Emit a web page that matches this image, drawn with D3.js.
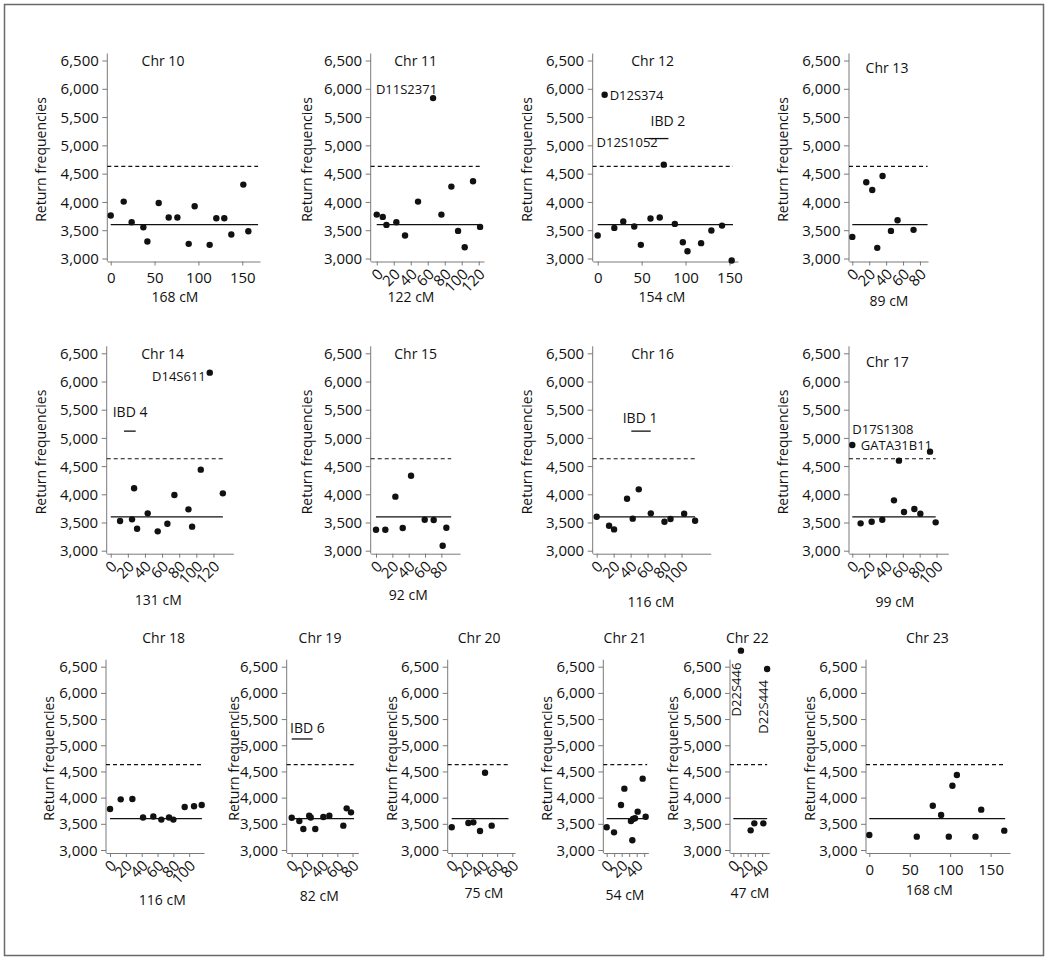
<!DOCTYPE html>
<html><head><meta charset="utf-8">
<script src="https://cdn.jsdelivr.net/npm/d3@7"></script>
<style>
body{margin:0;background:#fff}
svg text{font-family:"Open Sans",sans-serif;fill:#111;font-size:14px}
</style>
</head><body>
<svg id="c" width="1050" height="963"></svg>
<script>
// ---------- data ----------
const chromosomes = [10,11,12,13,14,15,16,17,18,19,20,21,22,23];
const chrLengths  = [168,122,154,89,131,92,116,99,116,82,75,54,47,168];

const chr10_pos = [0,14.8,23.9,37.2,41.8,54.7,66.1,76.0,88.9,95.7,112.8,120.4,129.5,137.5,151.2,156.9];
const chr10_rf  = [3759,4006,3641,3553,3300,3982,3724,3724,3259,3924,3241,3712,3712,3424,4306,3482];
const chr11_pos = [0,7.1,11.4,23.1,33.3,48.6,66.3,76.1,87.8,95.7,103.5,113.3,121.6];
const chr11_rf  = [3776,3735,3594,3641,3406,4006,5835,3776,4271,3488,3200,4365,3559];
const chr12_pos = [0,7.9,18.9,29.1,41.6,49.1,60.1,70.6,75.2,87.8,96.9,102.2,117.7,129.4,141.5,152.5];
const chr12_rf  = [3406,5894,3541,3653,3565,3241,3706,3724,4659,3612,3288,3129,3271,3494,3582,2965];
const chr13_pos = [0,16.5,23.6,29.5,35.8,45.7,53.5,72.4];
const chr13_rf  = [3382,4347,4212,3188,4459,3488,3676,3506];
const chr14_pos = [10.9,24.9,27.3,30.8,43.2,54.9,66.2,74.4,90.8,95.1,105.2,115.7,131];
const chr14_rf  = [3526,3556,4106,3390,3662,3343,3479,3987,3733,3426,4437,6157,4017];
const chr15_pos = [0,11.4,23.7,32.7,42.9,59.6,70.6,81.6,86.1];
const chr15_rf  = [3372,3372,3958,3402,4330,3550,3544,3089,3408];
const chr16_pos = [0,14.6,20.5,35.8,42.5,49.6,63.8,79.9,87,103.1,116];
const chr16_rf  = [3603,3443,3378,3922,3568,4088,3662,3514,3561,3656,3532];
const chr17_pos = [0,9.9,23,35.6,49.5,55.4,61.4,73.7,80.8,92.3,99];
const chr17_rf  = [4874,3485,3514,3550,3893,4597,3686,3739,3656,4756,3503];
const chr18_pos = [0,13.5,28.2,41.7,54.7,64.8,74.5,80,94.3,106.1,115.8];
const chr18_rf  = [3783,3967,3974,3620,3640,3580,3620,3580,3821,3834,3859];
const chr19_pos = [0,10,15.3,23,25,31,41.6,49.5,67.9,72.3,78];
const chr19_rf  = [3617,3554,3401,3655,3620,3401,3630,3655,3465,3795,3719];
const chr20_pos = [0,22,28.6,37.4,44,52.8];
const chr20_rf  = [3433,3515,3528,3363,4476,3465];
const chr21_pos = [0,9.8,19.1,23.6,32.4,34.2,35.1,37.8,41.3,48,52];
const chr21_rf  = [3433,3337,3859,4171,3554,3185,3592,3605,3732,4362,3636];
const chr22_pos = [10.6,24.1,29.2,41.7,47];
const chr22_rf  = [6806,3375,3509,3509,6456];
const chr23_pos = [0,58.7,78.5,88.8,98.3,102.8,108.3,131.3,138.4,166.9];
const chr23_rf  = [3286,3255,3846,3668,3255,4228,4432,3255,3770,3369];

const meanLevel = 3600;       // solid line
const thresholdLevel = 4630;  // dashed line
const yTicks = [3000,3500,4000,4500,5000,5500,6000,6500];

const markerChr  = [11,12,12,14,17,17,22,22];
const markerName = ["D11S2371","D12S374","D12S1052","D14S611","D17S1308","GATA31B11","D22S446","D22S444"];
const markerCM   = [66.3,7.9,75.2,115.7,0,92.3,10.6,47];

const ibdName  = ["IBD 2","IBD 4","IBD 1","IBD 6"];
const ibdChr   = [12,14,16,19];
const ibdStart = [58.2,15.5,40.8,0];
const ibdEnd   = [80.5,29.2,63.7,27.6];
const ibdLevel = 5120;

const seriesPos = {10:chr10_pos,11:chr11_pos,12:chr12_pos,13:chr13_pos,14:chr14_pos,15:chr15_pos,16:chr16_pos,17:chr17_pos,18:chr18_pos,19:chr19_pos,20:chr20_pos,21:chr21_pos,22:chr22_pos,23:chr23_pos};
const seriesRf  = {10:chr10_rf,11:chr11_rf,12:chr12_rf,13:chr13_rf,14:chr14_rf,15:chr15_rf,16:chr16_rf,17:chr17_rf,18:chr18_rf,19:chr19_rf,20:chr20_rf,21:chr21_rf,22:chr22_rf,23:chr23_rf};

// ---------- layout ----------
const rows = [{top:60.5,bottom:258.5},{top:353.3,bottom:550.7},{top:666.7,bottom:850}];
const panels = [
 {chr:10,row:0,range:[107.3,260],dom:[-3.9,170.2],ticks:[0,50,100,150],rot:false,title:[163,60.7],xlab:[175,296.7],ylab:66},
 {chr:11,row:0,range:[370.7,484],dom:[-7.1,126.2],ticks:[0,20,40,60,80,100,120],rot:true,title:[415.7,60.7],xlab:[411,296.7],ylab:64},
 {chr:12,row:0,range:[592.7,738],dom:[-5.7,159.7],ticks:[0,50,100,150],rot:false,title:[652.7,60.7],xlab:[662,296.7],ylab:66},
 {chr:13,row:0,range:[849,928],dom:[-3.9,89.5],ticks:[0,20,40,60,80],rot:true,title:[887,67.7],xlab:[889,300.7],ylab:66},
 {chr:14,row:1,range:[106.7,233.3],dom:[-4.7,143.2],ticks:[0,20,40,60,80,100,120],rot:true,title:[162.7,354],xlab:[158.3,600],ylab:66},
 {chr:15,row:1,range:[370.7,460],dom:[-6.5,102.8],ticks:[0,20,40,60,80],rot:true,title:[415.7,354],xlab:[408.3,595],ylab:64},
 {chr:16,row:1,range:[592.7,710.7],dom:[-4.7,134.4],ticks:[0,20,40,60,80,100],rot:true,title:[652.7,354],xlab:[651,601.7],ylab:66},
 {chr:17,row:1,range:[849,948.3],dom:[-3.9,114],ticks:[0,20,40,60,80,100],rot:true,title:[887.3,362.3],xlab:[895,601.7],ylab:66},
 {chr:18,row:2,range:[106,204],dom:[-5.1,118.7],ticks:[0,20,40,60,80,100],rot:true,title:[163.7,638.3],xlab:[162.3,900],ylab:57},
 {chr:19,row:2,range:[286.7,358.3],dom:[-6.6,87.6],ticks:[0,20,40,60,80],rot:true,title:[320,638.3],xlab:[319.3,896],ylab:53},
 {chr:20,row:2,range:[447.7,515],dom:[-5.3,83.6],ticks:[0,20,40,60,80],rot:true,title:[479.2,638.3],xlab:[484,893.3],ylab:56},
 {chr:21,row:2,range:[603.3,648.3],dom:[-4.5,55.5],ticks:[0,10,20,30,40,50],every:20,rot:true,title:[625,638.3],xlab:[625,895],ylab:56.7},
 {chr:22,row:2,range:[730,769.3],dom:[-4.6,50],ticks:[0,10,20,30,40],every:20,rot:true,title:[747.3,638.3],xlab:[750,893.3],ylab:57.3},
 {chr:23,row:2,range:[866,1010],dom:[-4.1,174],ticks:[0,50,100,150],rot:false,title:[927.3,638.3],xlab:[929.3,890],ylab:56}
];
// marker label placement (pixel offsets from the point)
const markerLayout = [
 {anchor:"end",dx:4,dy:-4.5},
 {anchor:"start",dx:5,dy:5},
 {anchor:"end",dx:-6,dy:-17.5},
 {anchor:"end",dx:-4,dy:8.5},
 {anchor:"start",dx:0,dy:-11.5},
 {anchor:"end",dx:2,dy:-1.5},
 {anchor:"end",dx:0.5,dy:12,rot:true},
 {anchor:"end",dx:1,dy:11,rot:true}
];
const ibdLayout = [{dx:1.7,dy:-12.7},{dx:-11.3,dy:-14},{dx:-8.6,dy:-8.5},{dx:-1.7,dy:-6}];

const AX = "#7a7a7a", INK = "#111";
const TICKFONT = "15px";
const svg = d3.select("#c");
svg.append("rect").attr("x",4.5).attr("y",4.5).attr("width",1039).attr("height",951)
   .attr("fill","none").attr("stroke","#6a6a6a").attr("stroke-width",1.5);

const scales = {};
panels.forEach(p => {
  const r = rows[p.row];
  const x = d3.scaleLinear().domain(p.dom).range(p.range);
  const y = d3.scaleLinear().domain([3000,6500]).range([r.bottom,r.top]);
  scales[p.chr] = {x,y};
  const axisY = r.bottom + 3;
  const g = svg.append("g");
  const len = chrLengths[chromosomes.indexOf(p.chr)];

  // y axis
  g.append("line").attr("x1",p.range[0]).attr("x2",p.range[0])
   .attr("y1",r.top-7).attr("y2",axisY).attr("stroke",AX).attr("stroke-width",1);
  const ya = g.append("g").attr("transform",`translate(${p.range[0]},0)`)
   .call(d3.axisLeft(y).tickValues(yTicks).tickFormat(d3.format(",")).tickSize(5).tickSizeOuter(0));
  ya.select(".domain").remove();
  ya.selectAll(".tick line").attr("stroke",AX);
  ya.selectAll(".tick text").attr("x",-8.5).attr("dy","0.34em").style("font-family",'"Open Sans",sans-serif').style("font-size",TICKFONT).attr("fill",INK);

  // x axis
  const xa = g.append("g").attr("transform",`translate(0,${axisY})`)
   .call(d3.axisBottom(x).tickValues(p.ticks).tickSize(4).tickSizeOuter(0)
     .tickFormat(d => (p.every && d % p.every !== 0) ? "" : d));
  xa.select(".domain").attr("stroke",AX);
  xa.selectAll(".tick line").attr("stroke",AX);
  const tt = xa.selectAll(".tick text").style("font-family",'"Open Sans",sans-serif').style("font-size",TICKFONT).attr("fill",INK);
  if (p.rot) {
    tt.attr("x",0).attr("y",0).attr("dy","0.35em").attr("text-anchor","end")
      .attr("transform","translate(3,10) rotate(-45)");
  } else {
    tt.attr("y",16.5).attr("dy","0.35em");
  }

  // reference lines
  g.append("line").attr("x1",p.range[0]).attr("x2",x(len)).attr("y1",y(thresholdLevel)).attr("y2",y(thresholdLevel))
   .attr("stroke",INK).attr("stroke-width",1.2).attr("stroke-dasharray","4,3");
  g.append("line").attr("x1",x(0)).attr("x2",x(len)).attr("y1",y(meanLevel)).attr("y2",y(meanLevel))
   .attr("stroke",INK).attr("stroke-width",1.3);

  // points
  const pos = seriesPos[p.chr], rf = seriesRf[p.chr];
  g.selectAll("circle").data(pos.map((d,i)=>[d,rf[i]])).join("circle")
   .attr("cx",d=>x(d[0])).attr("cy",d=>y(d[1])).attr("r",3.2).attr("fill","#111");

  // texts
  g.append("text").attr("x",p.title[0]).attr("y",p.title[1]).attr("dy","0.36em").attr("text-anchor","middle").text("Chr " + p.chr);
  g.append("text").attr("x",p.xlab[0]).attr("y",p.xlab[1]).attr("dy","0.36em").attr("text-anchor","middle").text(len + " cM");
  g.append("text").attr("transform",`translate(${p.range[0]-p.ylab},${(r.top+r.bottom)/2}) rotate(-90)`)
   .attr("dy","0.36em").attr("text-anchor","middle").text("Return frequencies");
});

// marker labels
markerName.forEach((name,i) => {
  const c = markerChr[i], s = scales[c];
  const idx = seriesPos[c].indexOf(markerCM[i]);
  const px = s.x(markerCM[i]), py = s.y(seriesRf[c][idx]);
  const L = markerLayout[i];
  const t = svg.append("text").attr("text-anchor",L.anchor).style("font-size","13px").text(name);
  if (L.rot) t.attr("transform",`translate(${px+L.dx},${py+L.dy}) rotate(-90)`);
  else t.attr("x",px+L.dx).attr("y",py+L.dy);
});

// IBD regions
ibdName.forEach((name,i) => {
  const s = scales[ibdChr[i]];
  const x1 = s.x(ibdStart[i]), x2 = s.x(ibdEnd[i]), yy = s.y(ibdLevel);
  svg.append("line").attr("x1",x1).attr("x2",x2).attr("y1",yy).attr("y2",yy).attr("stroke",INK).attr("stroke-width",1.3);
  svg.append("text").attr("x",x1+ibdLayout[i].dx).attr("y",yy+ibdLayout[i].dy).text(name);
});
</script>
</body></html>
